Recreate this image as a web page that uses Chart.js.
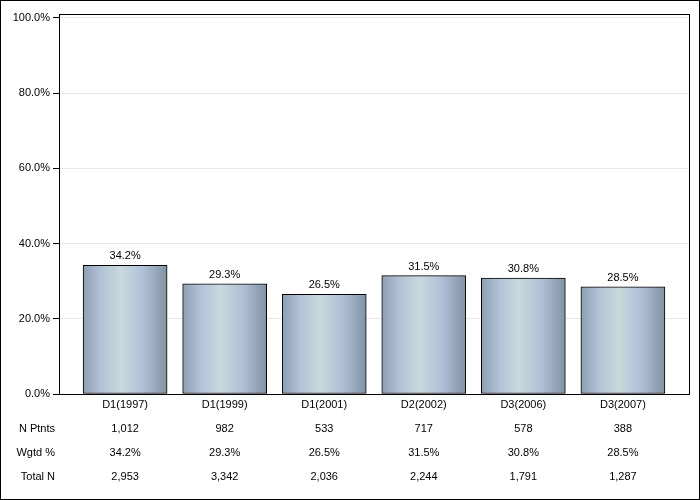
<!DOCTYPE html>
<html lang="en">
<head>
    <meta charset="UTF-8">
    <title>Wgtd % by phase</title>
    <script src="https://cdn.jsdelivr.net/npm/chart.js"></script>
    <style>
        body { margin: 0; background: #fff; }
        #wrap { width: 700px; height: 500px; position: relative; }
    </style>
</head>
<body>
    <div id="wrap"><canvas id="barChart" width="700" height="500"></canvas></div>

    <script>
        // chart data
        var categories = ['D1(1997)', 'D1(1999)', 'D1(2001)', 'D2(2002)', 'D3(2006)', 'D3(2007)'];
        var wgtdPct = [34.2, 29.3, 26.5, 31.5, 30.8, 28.5];
        var nPtnts = ['1,012', '982', '533', '717', '578', '388'];
        var totalN = ['2,953', '3,342', '2,036', '2,244', '1,791', '1,287'];
        var rowNames = ['N Ptnts', 'Wgtd %', 'Total N'];
        var yTicks = [0, 20, 40, 60, 80, 100];

        var FONT = '"Liberation Sans", Arial, sans-serif';

        // bar points on a linear x scale so the side padding can match
        var points = wgtdPct.map(function (v, i) { return { x: i, y: v }; });

        function barGradient(ctx, cx) {
            var half = 42.5;
            var g = ctx.createLinearGradient(cx - half, 0, cx + half, 0);
            g.addColorStop(0, '#8d9db2');
            g.addColorStop(0.22, '#b3c3d7');
            g.addColorStop(0.45, '#c9d9dd');
            g.addColorStop(0.7, '#b1c1d8');
            g.addColorStop(1, '#8292a4');
            return g;
        }

        // frame, value labels and the table row headers
        var extras = {
            id: 'extras',
            afterDatasetsDraw: function (chart) {
                var ctx = chart.ctx;
                var a = chart.chartArea;
                ctx.save();
                ctx.strokeStyle = '#000';
                ctx.lineWidth = 1;
                ctx.strokeRect(a.left + 0.5, a.top + 0.5, a.right - a.left, a.bottom - a.top);
                ctx.strokeRect(0.5, 0.5, chart.width - 1, chart.height - 1);

                ctx.fillStyle = '#000';
                ctx.font = '11px ' + FONT;
                ctx.textAlign = 'center';
                ctx.textBaseline = 'middle';
                chart.getDatasetMeta(0).data.forEach(function (bar, i) {
                    ctx.fillText(wgtdPct[i].toFixed(1) + '%', bar.x, bar.y - 9);
                });

                ctx.textAlign = 'right';
                rowNames.forEach(function (name, i) {
                    ctx.fillText(name, 55, a.bottom + 35 + i * 24);
                });
                ctx.restore();
            }
        };

        var ctx = document.getElementById('barChart').getContext('2d');
        var myChart = new Chart(ctx, {
            type: 'bar',
            data: {
                datasets: [{
                    data: points,
                    barThickness: 84,
                    borderColor: '#000',
                    borderWidth: 1,
                    borderSkipped: false,
                    backgroundColor: function (c) {
                        var xs = c.chart.scales && c.chart.scales.x;
                        if (!xs) return '#b3c3d7';
                        var cx = xs.getPixelForValue(c.dataIndex);
                        if (!isFinite(cx)) return '#b3c3d7';
                        return barGradient(c.chart.ctx, cx);
                    }
                }]
            },
            options: {
                responsive: false,
                animation: false,
                layout: { padding: { top: 14, right: 11, left: 0, bottom: 0 } },
                plugins: {
                    legend: { display: false },
                    tooltip: { enabled: false }
                },
                scales: {
                    x: {
                        type: 'linear',
                        offset: false,
                        min: -0.664,
                        max: 5.664,
                        afterBuildTicks: function (s) {
                            s.ticks = categories.map(function (c, i) { return { value: i }; });
                        },
                        afterFit: function (s) { s.height = 106; },
                        grid: { display: false, drawTicks: false, offset: false },
                        border: { display: false },
                        ticks: {
                            autoSkip: false,
                            maxRotation: 0,
                            padding: -1,
                            color: '#000',
                            font: { family: FONT, size: 11, lineHeight: '24px' },
                            callback: function (v) {
                                return [categories[v], nPtnts[v], wgtdPct[v].toFixed(1) + '%', totalN[v]];
                            }
                        }
                    },
                    y: {
                        min: 0,
                        max: 101.06,
                        afterBuildTicks: function (s) {
                            s.ticks = yTicks.map(function (v) { return { value: v }; });
                        },
                        afterFit: function (s) { s.width = 59; },
                        grid: {
                            color: '#e8e8e8',
                            tickColor: '#000',
                            tickLength: 6
                        },
                        border: { display: false },
                        ticks: {
                            padding: 3,
                            color: '#000',
                            font: { family: FONT, size: 11 },
                            callback: function (v) { return v.toFixed(1) + '%'; }
                        }
                    }
                }
            },
            plugins: [extras]
        });
    </script>
</body>
</html>
